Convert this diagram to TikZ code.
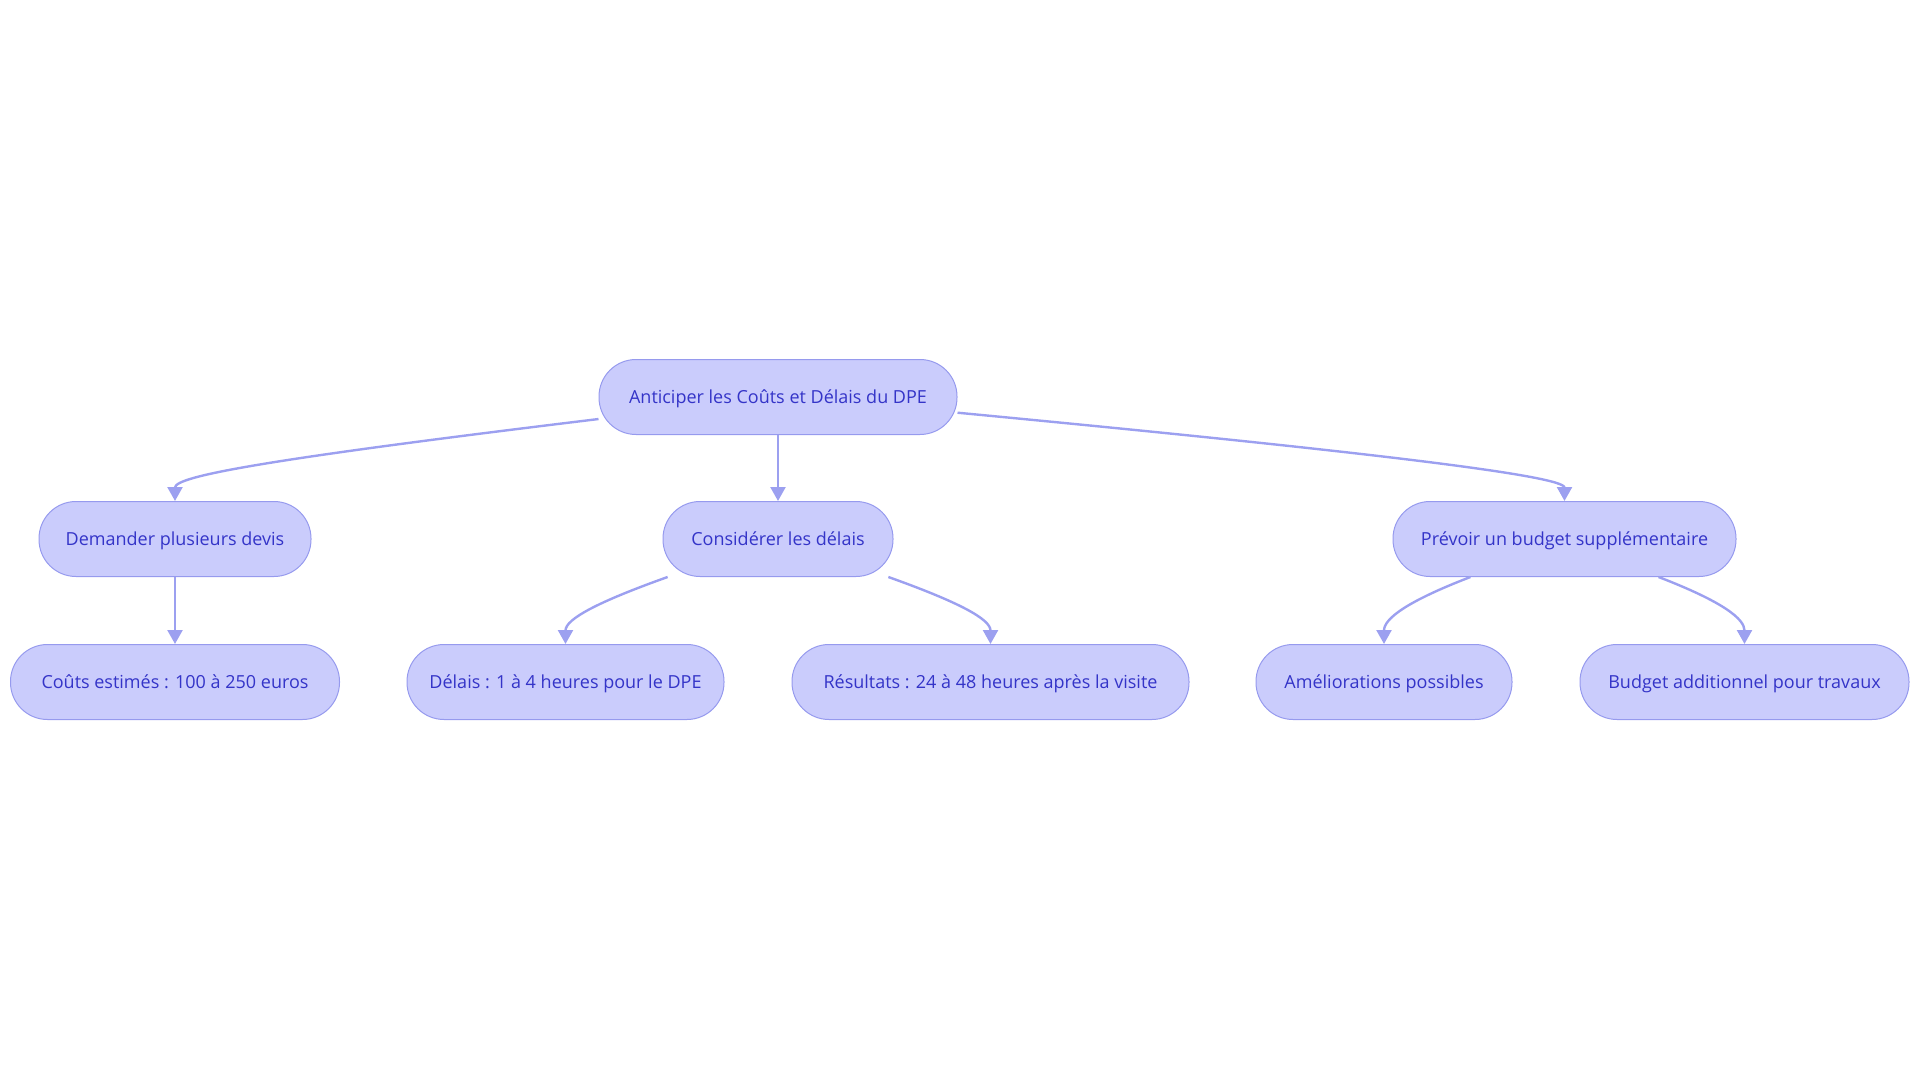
\documentclass[tikz,border=0pt]{standalone}
\usepackage{fontspec}
\setmainfont{Open Sans}
\usepackage{tikz}
\usetikzlibrary{arrows.meta}

\definecolor{boxfill}{RGB}{202,204,252}
\definecolor{boxline}{RGB}{150,154,238}
\definecolor{linkcol}{RGB}{156,160,240}
\definecolor{textcol}{RGB}{52,52,200}

\begin{document}
\begin{tikzpicture}[x=1pt, y=-1pt,
  box/.style={draw=boxline, fill=boxfill, line width=1pt, rounded corners=37pt,
    minimum height=75pt, inner sep=0pt, text height=15pt, text depth=2pt,
    text=textcol, font=\fontsize{18}{21}\selectfont},
  link/.style={draw=linkcol, line width=2.4pt, -{Triangle[width=15pt,length=14pt]}}]
\useasboundingbox (0,0) rectangle (1920,1083);

\node[box, minimum width=358pt] (root) at (778,397) {Anticiper les Coûts et Délais du DPE};

\node[box, minimum width=272pt] (devis) at (175,539) {Demander plusieurs devis};
\node[box, minimum width=230pt] (delais) at (778,539) {Considérer les délais};
\node[box, minimum width=343pt] (budget) at (1564.5,539) {Prévoir un budget supplémentaire};

\node[box, minimum width=329pt] (couts) at (175,682) {Coûts estimés : 100 à 250 euros};
\node[box, minimum width=317pt] (heures) at (565.5,682) {Délais : 1 à 4 heures pour le DPE};
\node[box, minimum width=397pt] (result) at (990.5,682) {Résultats : 24 à 48 heures après la visite};
\node[box, minimum width=256pt] (amelio) at (1384,682) {Améliorations possibles};
\node[box, minimum width=329pt] (travaux) at (1744.5,682) {Budget additionnel pour travaux};

\draw[link] (root.187) .. controls +(-330,40) and +(0,-25) .. (devis.north);
\draw[link] (root.south) -- (delais.north);
\draw[link] (root.-5) .. controls +(420,40) and +(0,-25) .. (budget.north);

\draw[link] (devis.south) -- (couts.north);
\draw[link] (delais.199) .. controls +(-70,25) and +(0,-25) .. (heures.north);
\draw[link] (delais.341) .. controls +(70,25) and +(0,-25) .. (result.north);
\draw[link] (budget.202) .. controls +(-65,25) and +(0,-25) .. (amelio.north);
\draw[link] (budget.338) .. controls +(65,25) and +(0,-25) .. (travaux.north);
\end{tikzpicture}
\end{document}
